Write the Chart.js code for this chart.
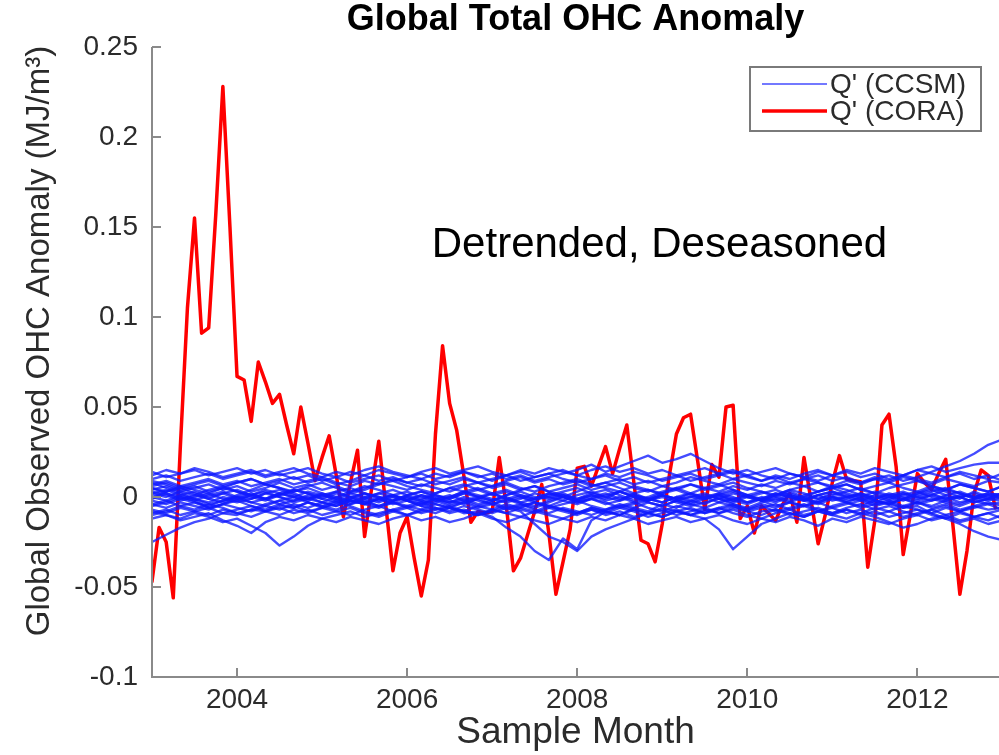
<!DOCTYPE html>
<html>
<head>
<meta charset="utf-8">
<title>Global Total OHC Anomaly</title>
<script src="https://cdn.jsdelivr.net/npm/chart.js@4.4.1/dist/chart.umd.min.js"></script>
<style>
  html, body { margin: 0; padding: 0; background: #fff; overflow: hidden; }
  #chart { display: block; }
</style>
</head>
<body>
<canvas id="chart" width="999" height="755"></canvas>
<script>
const firstYear = 2003;
const yearTicks = [2004, 2006, 2008, 2010, 2012];
const anomalyTicks = [-0.1, -0.05, 0, 0.05, 0.1, 0.15, 0.2, 0.25];

// CORA monthly anomaly, Jan 2003 .. Dec 2012 (MJ/m^3)
const coraQ = [
  -0.047, -0.017, -0.025, -0.056, 0.028, 0.105, 0.155, 0.091, 0.094, 0.157, 0.228, 0.150,
  0.067, 0.065, 0.042, 0.075, 0.064, 0.052, 0.057, 0.040, 0.024, 0.050, 0.030, 0.009,
  0.022, 0.034, 0.012, -0.011, 0.008, 0.026, -0.022, 0.005, 0.031, -0.005, -0.041, -0.020,
  -0.011, -0.034, -0.055, -0.035, 0.035, 0.084, 0.052, 0.037, 0.012, -0.014, -0.008, -0.009,
  -0.008, 0.022, -0.005, -0.041, -0.034, -0.021, -0.008, 0.007, -0.020, -0.054, -0.036, -0.018,
  0.016, 0.017, 0.006, 0.017, 0.028, 0.013, 0.027, 0.040, 0.008, -0.024, -0.026, -0.036,
  -0.015, 0.012, 0.035, 0.044, 0.046, 0.020, -0.007, 0.018, 0.011, 0.050, 0.051, -0.012,
  -0.005, -0.020, -0.005, -0.009, -0.013, -0.004, 0.002, -0.014, 0.022, -0.002, -0.026, -0.010,
  0.008, 0.023, 0.010, 0.009, 0.0085, -0.039, -0.013, 0.040, 0.046, 0.017, -0.032, -0.010,
  0.013, 0.008, 0.004, 0.013, 0.021, -0.015, -0.054, -0.030, 0.002, 0.015, 0.012, -0.006
];

// CCSM ensemble members, every second month from Jan 2003, in 1e-3 MJ/m^3
const ccsmStepMonths = 2;
const ccsmQ = [
  [-25,-21,-17,-14,-12,-9,-10,-7,-8,-5, -6,-3,-5,-2,-4,-1,-3,0,-2,1, -1,-3,-1,-4,-2,0,-3,-1,2,0, -2,1,-1,3,0,-2,1,-1,2,0, -3,-1,1,-2,0,2,-1,1,-2,0, 1,-1,2,0,-2,1,-1,0,2,-1, 1],
  [-8,-10,-12,-9,-11,-14,-12,-16,-20,-27, -22,-16,-12,-10,-8,-11,-9,-7,-10,-8, -6,-9,-7,-10,-8,-5,-7,-9,-6,-8, -10,-7,-9,-6,-8,-11,-9,-7,-10,-8, -6,-9,-11,-8,-7,-10,-8,-6,-9,-7, -10,-8,-11,-9,-7,-10,-12,-9,-11,-13, -10],
  [-12,-10,-13,-11,-9,-13,-16,-20,-14,-11, -13,-10,-12,-14,-11,-13,-15,-12,-10,-13, -11,-14,-12,-9,-12,-14,-11,-13,-15,-12, -14,-11,-13,-10,-12,-15,-13,-11,-14,-12, -10,-13,-15,-12,-14,-11,-13,-16,-12,-14, -11,-13,-15,-12,-10,-13,-11,-14,-12,-15, -13],
  [2,4,1,3,0,2,-1,1,3,0, -2,1,-1,2,0,-3,-1,-4,-2,-5, -7,-6,-9,-8,-11,-17,-22,-30,-35,-23, -29,-13,-8,-10,-6,-8,-4,-6,-2,-4, 0,-2,1,-1,2,0,-2,1,3,0, 2,-1,1,3,0,2,-1,1,0,2, 1],
  [5,3,6,4,2,5,3,1,4,2, 0,3,1,-1,2,0,-2,1,-1,-3, -1,-4,-2,-5,-3,-6,-8,-15,-22,-25, -30,-22,-18,-15,-12,-9,-11,-8,-6,-9, -7,-5,-8,-6,-4,-7,-5,-3,-6,-4, -2,-5,-3,-1,-4,-2,0,-3,-1,-2, 0],
  [10,12,9,11,13,10,12,14,11,13, 10,12,9,11,8,10,12,9,11,13, 10,12,14,11,13,10,12,9,11,13, 15,18,14,17,20,23,19,21,24,20, 16,13,15,12,10,13,11,9,12,10, 8,11,9,12,10,8,11,13,10,12, 9],
  [-4,-6,-3,-5,-7,-4,-6,-8,-5,-7, -4,-6,-3,-5,-2,-4,-6,-3,-5,-7, -4,-6,-8,-5,-7,-4,-6,-3,-5,-7, -9,-6,-8,-10,-7,-9,-11,-8,-10,-12, -18,-29,-22,-15,-12,-9,-11,-8,-10,-7, -9,-6,-8,-5,-7,-9,-6,-8,-5,-7, -6],
  [6,8,5,7,9,6,8,10,7,9, 11,8,10,7,9,12,9,11,8,10, 7,9,11,8,10,12,9,11,13,10, 8,10,12,9,11,8,10,12,9,11, 13,10,12,9,11,8,10,12,9,11, 8,10,12,9,11,14,17,20,24,29, 32],
  [14,11,13,15,12,14,16,13,15,12, 14,16,13,11,14,12,15,13,11,14, 16,13,15,17,14,12,15,13,16,14, 12,15,17,14,16,13,15,12,14,16, 13,15,12,14,16,13,11,14,12,15, 13,16,14,12,15,17,14,16,18,19, 19],
  [0,-2,1,-1,-3,0,-2,1,-1,2, 0,-2,1,3,0,-1,2,0,-2,1, -1,1,-2,0,2,-1,1,-1,0,2, -1,1,-2,0,-3,-1,1,-2,0,-1, 1,-1,-3,0,-2,1,-1,-3,0,-2, -1,-4,-3,-6,-5,-9,-12,-15,-19,-22, -24],
  [-9,-7,-10,-8,-6,-9,-7,-5,-8,-10, -7,-9,-6,-8,-10,-7,-5,-8,-6,-9, -7,-5,-8,-10,-7,-9,-6,-8,-5,-7, -9,-6,-8,-5,-7,-9,-6,-8,-10,-7, -9,-6,-8,-10,-7,-9,-11,-8,-10,-12, -9,-11,-14,-17,-15,-12,-10,-13,-11,-9, -12],
  [4,6,3,5,7,4,6,3,5,8, 5,7,4,6,3,5,8,6,4,7, 5,3,6,8,5,7,4,6,3,5, 7,4,6,8,5,3,6,4,7,5, 3,6,4,7,5,8,6,3,5,7, 4,6,8,5,3,6,4,7,5,3, 6],
  [-4,-2,-5,-3,-6,-4,-2,-5,-7,-4, -6,-3,-5,-7,-4,-2,-5,-3,-6,-4, -2,-5,-3,-6,-4,-7,-5,-3,-6,-4, -2,-5,-7,-4,-6,-3,-5,-2,-4,-6, -3,-5,-7,-4,-6,-3,-5,-8,-5,-3, -6,-4,-2,-5,-3,-6,-4,-7,-5,-3, -5],
  [8,5,2,-1,-4,-2,1,4,7,5, 2,-1,-3,0,3,6,4,1,-2,-5, -3,0,3,5,2,-1,-4,-6,-3,0, 3,6,8,5,2,-1,-3,0,2,5, 7,4,1,-2,-5,-3,0,3,6,4, 1,-2,-4,-1,2,5,3,0,-3,-1, 2],
  [12,15,13,16,14,11,13,15,12,14, 16,13,11,14,12,15,17,14,12,10, 13,11,14,12,9,12,14,11,13,15, 12,10,13,11,14,12,9,11,13,10, 12,14,11,9,12,10,13,15,12,14, 11,13,10,12,15,13,11,14,12,10, 13],
  [-1,2,0,-2,1,3,0,-1,2,0, -3,-1,1,-2,0,2,-1,-3,0,-2, 1,-1,2,0,-2,1,3,0,-1,1, -2,0,2,-1,1,-1,-3,0,-2,1, -1,2,0,-2,1,3,0,-1,2,0, -2,1,-1,2,0,-2,1,-1,3,0, 2],
  [7,9,6,8,10,7,9,6,8,10, 7,9,11,8,6,9,7,10,8,6, 9,7,10,8,6,9,11,8,10,7, 9,6,8,10,7,9,6,8,11,9, 7,10,8,6,9,7,10,8,6,9, 7,10,8,11,9,7,10,8,6,9, 8],
  [-7,-9,-6,-8,-10,-7,-9,-11,-8,-6, -9,-7,-10,-8,-6,-9,-11,-8,-10,-7, -9,-6,-8,-10,-7,-9,-11,-8,-10,-12, -9,-7,-10,-8,-11,-9,-7,-10,-8,-6, -9,-7,-10,-12,-9,-7,-10,-8,-6,-9, -7,-10,-8,-11,-9,-7,-10,-8,-11,-9, -7],
  [2,0,3,1,-1,2,4,1,-1,2, 4,2,0,3,5,2,0,-2,1,3, 1,-1,2,4,1,3,0,-2,1,3, 5,2,0,3,1,-1,2,4,1,-1, 2,4,1,3,0,-2,1,3,5,2, 0,3,1,-1,2,4,1,3,0,2, 1],
  [-2,-4,-1,-3,-5,-2,0,-3,-1,-4, -2,0,-3,-5,-2,-4,-1,1,-2,-4, -1,-3,0,-2,-4,-1,-3,-5,-2,0, -3,-1,-4,-2,0,-3,-5,-2,-4,-1, 1,-2,-4,-1,-3,0,-2,-4,-1,-3, 0,-2,-4,-1,-3,-5,-2,0,-3,-1, -2],
  [5,2,-1,1,4,6,3,0,-2,1, 3,5,2,-1,-3,0,2,4,1,-1, 2,5,3,0,-2,1,4,6,3,1, -1,2,4,1,-2,0,3,5,2,-1, 1,3,0,-2,1,4,2,-1,1,3, 5,2,0,-2,1,3,5,2,0,-1, 2],
  [-5,-3,0,-2,-6,-4,-1,-3,-5,-2, 0,-3,-6,-4,-1,-3,-5,-2,0,-2, -4,-6,-3,-1,-4,-2,0,-3,-5,-2, -4,-1,-3,-6,-4,-2,0,-3,-5,-3, -1,-4,-6,-3,-1,-3,-5,-2,0,-3, -5,-2,-4,-6,-3,-1,-3,-5,-2,-4, -3],
  [9,7,4,6,3,5,8,10,7,5, 3,6,8,5,2,4,7,9,6,4, 2,5,7,4,6,8,5,3,6,8, 10,7,5,3,6,4,2,5,7,4, 6,8,5,3,1,4,6,8,5,7, 4,2,5,7,9,6,4,7,5,3, 6],
  [-10,-8,-5,-7,-4,-6,-9,-7,-4,-2, -5,-8,-6,-3,-5,-8,-10,-7,-5,-3, -6,-8,-5,-7,-9,-6,-4,-7,-9,-6, -8,-10,-7,-5,-3,-6,-8,-5,-7,-9, -6,-4,-7,-5,-8,-6,-4,-7,-9,-6, -4,-7,-5,-8,-10,-7,-5,-8,-6,-4, -7],
  [0,3,5,2,-1,-3,0,2,-1,1, 4,2,-1,-3,-1,2,0,-2,1,3, 0,-2,-4,-1,2,4,1,-1,2,0, -3,-1,1,3,0,-2,1,-1,-3,0, 2,0,-3,-1,2,0,-2,1,3,1, -1,-3,0,2,-1,1,4,2,-1,1, 0],
  [3,1,-2,0,2,-1,-3,-1,2,4, 1,-1,2,0,-2,-4,-1,1,3,0, -2,0,3,1,-1,-3,-1,2,0,-2, 1,3,0,-2,2,4,1,-1,0,2, -1,-3,0,2,4,1,-1,-3,0,-1, 2,0,-2,1,3,0,-2,-4,-1,1, -1]
];

const ccsmColor = 'rgba(15, 25, 255, 0.78)';
const coraColor = 'rgb(255, 0, 0)';
const axisColor = '#8a8a8a';
const textColor = '#2b2b2b';
const fontFamily = '"Liberation Sans", Arial, Helvetica, sans-serif';

function monthSeries(values, step, scale) {
  return values.map((v, i) => ({ x: firstYear + i * step / 12, y: v * scale }));
}

const datasets = ccsmQ.map(run => ({
  label: "Q' (CCSM)",
  data: monthSeries(run, ccsmStepMonths, 0.001),
  borderColor: ccsmColor,
  borderWidth: 2.4,
  borderJoinStyle: 'round',
  pointRadius: 0,
  tension: 0
}));
datasets.push({
  label: "Q' (CORA)",
  data: monthSeries(coraQ, 1, 1),
  borderColor: coraColor,
  borderWidth: 3.5,
  borderJoinStyle: 'round',
  borderCapStyle: 'round',
  pointRadius: 0,
  tension: 0
});

// axes lines, inward ticks, titles, the note and the boxed legend
const matlabAxes = {
  id: 'matlabAxes',
  afterDraw(chart) {
    const { ctx, chartArea: a, scales: { x, y } } = chart;
    ctx.save();
    ctx.strokeStyle = axisColor;
    ctx.lineWidth = 2;
    ctx.beginPath();
    ctx.moveTo(a.left, a.top);
    ctx.lineTo(a.left, a.bottom);
    ctx.lineTo(a.right, a.bottom);
    anomalyTicks.forEach(v => {
      const py = Math.round(y.getPixelForValue(v));
      ctx.moveTo(a.left, py);
      ctx.lineTo(a.left + 9, py);
    });
    yearTicks.forEach(v => {
      const px = Math.round(x.getPixelForValue(v));
      ctx.moveTo(px, a.bottom);
      ctx.lineTo(px, a.bottom - 9);
    });
    ctx.stroke();

    ctx.textAlign = 'center';
    ctx.textBaseline = 'middle';
    ctx.fillStyle = '#000';
    ctx.font = 'bold 36px ' + fontFamily;
    ctx.fillText('Global Total OHC Anomaly', (a.left + a.right) / 2, 20);

    ctx.fillStyle = textColor;
    ctx.font = '37px ' + fontFamily;
    ctx.fillText('Sample Month', (a.left + a.right) / 2, 733);

    ctx.save();
    ctx.translate(40, 341);
    ctx.rotate(-Math.PI / 2);
    ctx.font = '33px ' + fontFamily;
    ctx.fillText('Global Observed OHC Anomaly (MJ/m\u00B3)', 0, 0);
    ctx.restore();

    ctx.fillStyle = '#000';
    ctx.textAlign = 'left';
    ctx.font = '42px ' + fontFamily;
    ctx.fillText('Detrended, Deseasoned', x.getPixelForValue(2006.29), y.getPixelForValue(0.14));

    // legend box
    ctx.fillStyle = '#fff';
    ctx.fillRect(750, 67, 231, 64);
    ctx.strokeStyle = '#7a7a7a';
    ctx.lineWidth = 2;
    ctx.strokeRect(750, 67, 231, 64);
    const rows = [
      { label: "Q' (CCSM)", color: ccsmColor, width: 1.6, yy: 84 },
      { label: "Q' (CORA)", color: coraColor, width: 3.5, yy: 111 }
    ];
    ctx.font = '28px ' + fontFamily;
    rows.forEach(r => {
      ctx.strokeStyle = r.color;
      ctx.lineWidth = r.width;
      ctx.beginPath();
      ctx.moveTo(762, r.yy);
      ctx.lineTo(827, r.yy);
      ctx.stroke();
      ctx.fillStyle = textColor;
      ctx.fillText(r.label, 830, r.yy + 1);
    });
    ctx.restore();
  }
};

new Chart(document.getElementById('chart'), {
  type: 'line',
  data: { datasets: datasets },
  options: {
    responsive: false,
    animation: false,
    layout: { padding: { top: 47, left: 0, right: 0, bottom: 0 } },
    plugins: {
      legend: { display: false },
      tooltip: { enabled: false }
    },
    scales: {
      x: {
        type: 'linear',
        min: 2003,
        max: 2012.96,
        grid: { display: false, drawTicks: false },
        border: { display: false },
        afterBuildTicks: axis => { axis.ticks = yearTicks.map(v => ({ value: v })); },
        afterFit: axis => { axis.height = 78; },
        ticks: {
          color: textColor,
          padding: 6,
          maxRotation: 0,
          font: { family: fontFamily, size: 28 },
          callback: v => String(v)
        }
      },
      y: {
        type: 'linear',
        min: -0.1,
        max: 0.25,
        grid: { display: false, drawTicks: false },
        border: { display: false },
        afterBuildTicks: axis => { axis.ticks = anomalyTicks.map(v => ({ value: v })); },
        afterFit: axis => { axis.width = 152; },
        ticks: {
          color: textColor,
          padding: 14,
          font: { family: fontFamily, size: 28 },
          callback: v => String(v)
        }
      }
    }
  },
  plugins: [matlabAxes]
});
</script>
</body>
</html>
